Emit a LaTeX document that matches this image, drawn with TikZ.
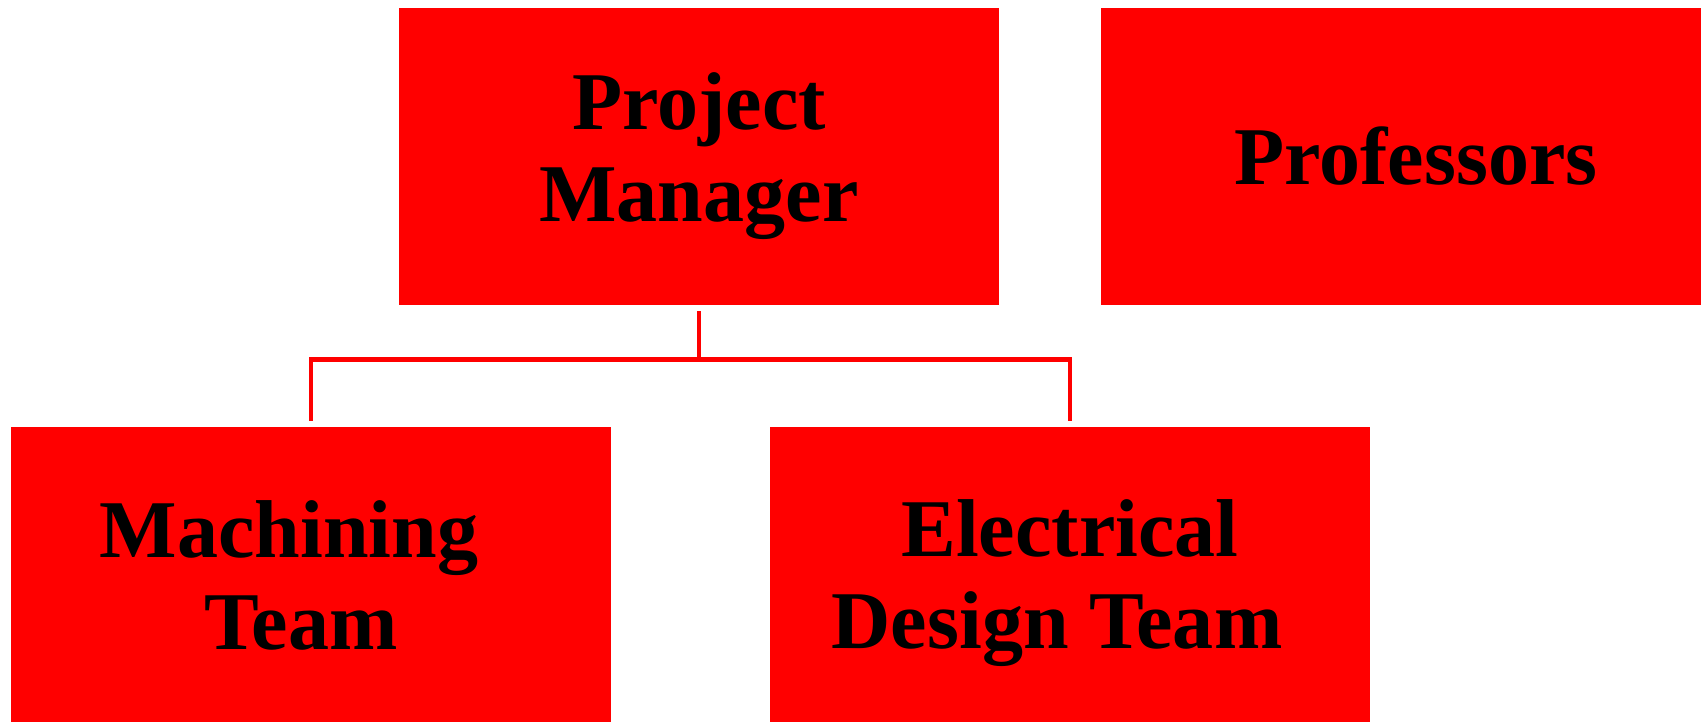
\documentclass[tikz,border=0pt]{standalone}
\usepackage{fontspec}
\setmainfont{Liberation Serif}
\tikzset{
  teambox/.style={fill=red, draw=none, inner sep=0pt, minimum width=12cm, minimum height=5.94cm,
    align=center, font=\fontsize{46.7pt}{52.4pt}\selectfont\bfseries},
  link/.style={draw=red, line width=0.09cm, shorten <=0.12cm, shorten >=0.12cm}
}
\begin{document}
\begin{tikzpicture}[x=0.02cm, y=-0.02cm]
% \clip (0,0) rectangle (1703,721);
\useasboundingbox (0,0) rectangle (1703,721);
\clip (0,0) rectangle (1703,721);
\fill[white] (0,0) rectangle (1703,721);

% Top row
\node[teambox] (pm) at (699,156.5) {Project\\Manager};
\node[teambox] (prof) at (1401,156.5) {\hspace*{0.6cm}Professors};

% Bottom row
\node[teambox] (mach) at (311,575.5) {Machining\hspace*{0.88cm}\\Team\hspace*{0.4cm}};
\node[teambox, text depth=0.06cm] (elec) at (1070,575.5) {Electrical\\Design Team\hspace*{0.52cm}};

% Drawing links pm -> teams
\draw[link] (pm.south) -- ++(0,54) -| (mach.north);
\draw[link] (pm.south) -- ++(0,54) -| (elec.north);
\end{tikzpicture}
\end{document}
